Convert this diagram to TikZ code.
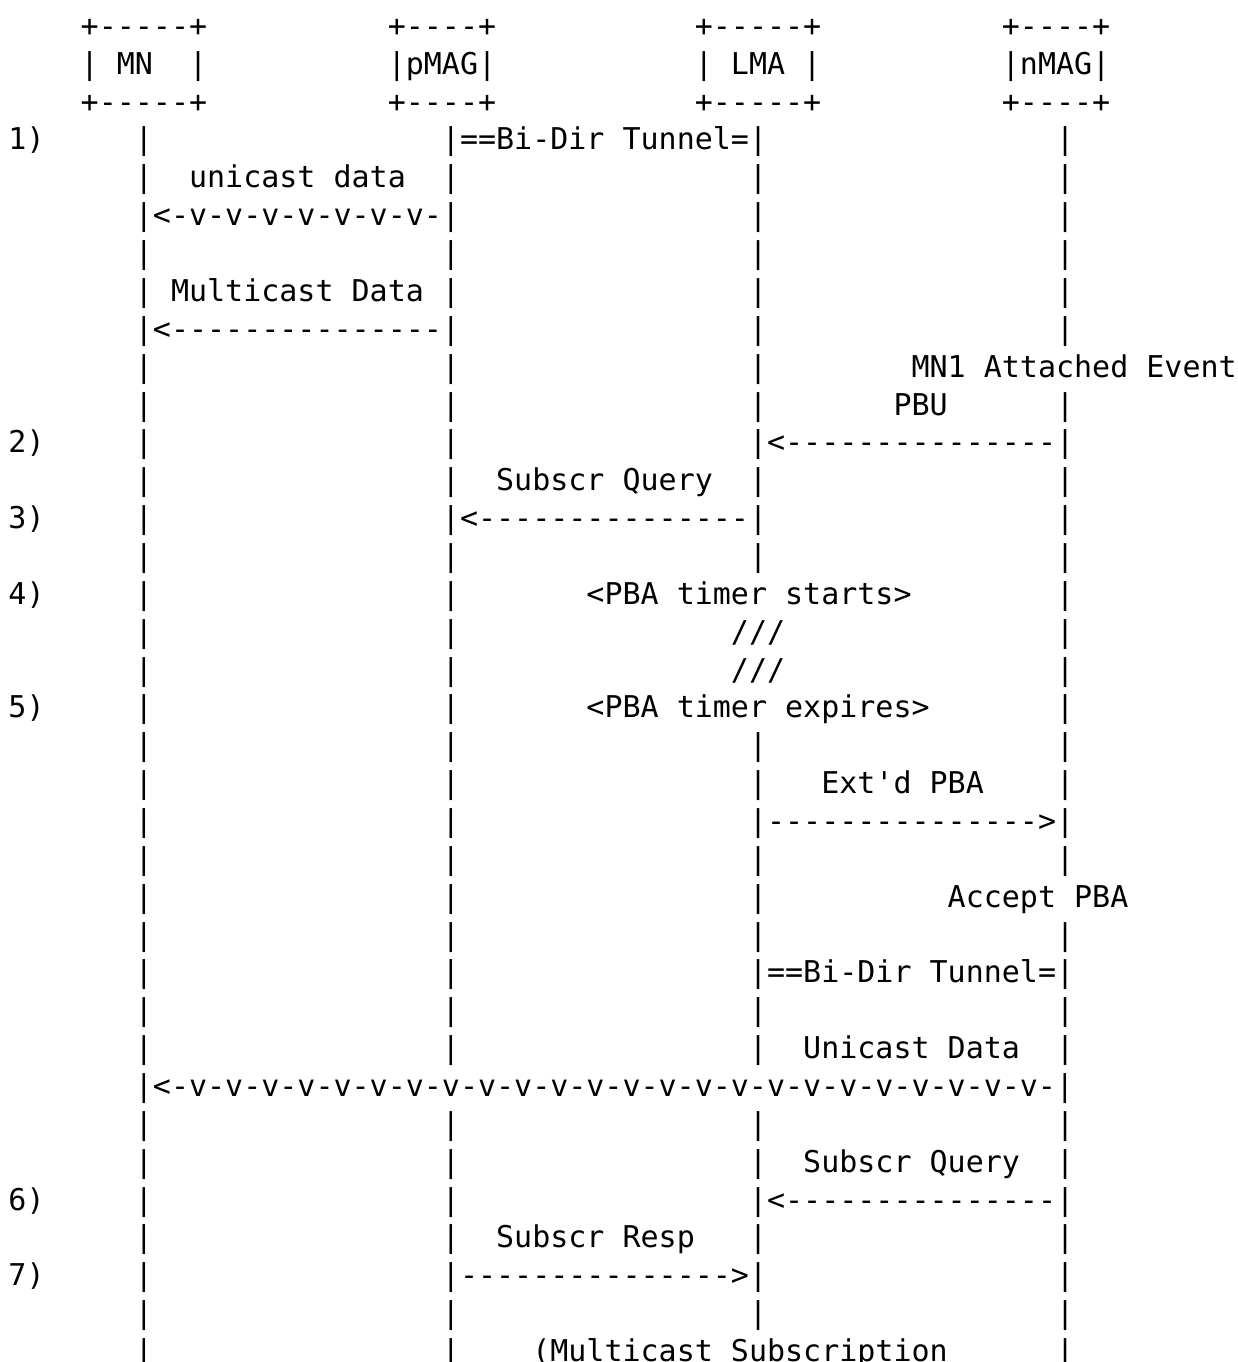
\documentclass[tikz,border=0pt]{standalone}
\usepackage{fontspec}
\setmonofont{DejaVu Sans Mono}
\newcommand\Atxt[3]{\node[ascii] (n-#1-#2) at ({4.25pt+#2*9.031pt},{-18.2pt-#1*18.93pt}) {#3};}
\newcommand\Abars[2]{\foreach \cc in {#2}{\node[ascii] (b-#1-\cc) at ({4.25pt+\cc*9.031pt},{-18.2pt-#1*18.93pt}) {|};}}
\begin{document}
\begin{tikzpicture}[ascii/.style={anchor=base west,inner sep=0pt,outer sep=0pt,font=\ttfamily\fontsize{15pt}{15pt}\selectfont,text=black}]
\fill[white] (0,0) rectangle (619pt,-681pt);
\useasboundingbox (0,0) rectangle (619pt,-681pt);
% header boxes
\Atxt{0}{4}{+-----+} \Atxt{0}{21}{+----+} \Atxt{0}{38}{+-----+} \Atxt{0}{55}{+----+}
\Atxt{1}{4}{|} \Atxt{1}{6}{MN} \Atxt{1}{10}{|}
\Atxt{1}{21}{|pMAG|}
\Atxt{1}{38}{|} \Atxt{1}{40}{LMA} \Atxt{1}{44}{|}
\Atxt{1}{55}{|nMAG|}
\Atxt{2}{4}{+-----+} \Atxt{2}{21}{+----+} \Atxt{2}{38}{+-----+} \Atxt{2}{55}{+----+}
% 1)
\Atxt{3}{0}{1)} \Abars{3}{7,58} \Atxt{3}{24}{|==Bi-Dir Tunnel=|}
\Abars{4}{7,24,41,58} \Atxt{4}{10}{unicast data}
\Atxt{5}{7}{|<-v-v-v-v-v-v-v-|} \Abars{5}{41,58}
\Abars{6}{7,24,41,58}
\Abars{7}{7,24,41,58} \Atxt{7}{9}{Multicast Data}
\Atxt{8}{7}{|<---------------|} \Abars{8}{41,58}
\Abars{9}{7,24,41} \Atxt{9}{50}{MN1 Attached Event}
\Abars{10}{7,24,41,58} \Atxt{10}{49}{PBU}
% 2)
\Atxt{11}{0}{2)} \Abars{11}{7,24} \Atxt{11}{41}{|<---------------|}
\Abars{12}{7,24,41,58} \Atxt{12}{27}{Subscr Query}
% 3)
\Atxt{13}{0}{3)} \Abars{13}{7,58} \Atxt{13}{24}{|<---------------|}
\Abars{14}{7,24,41,58}
% 4)
\Atxt{15}{0}{4)} \Abars{15}{7,24,58} \Atxt{15}{32}{<PBA timer starts>}
\Abars{16}{7,24,58} \Atxt{16}{40}{///}
\Abars{17}{7,24,58} \Atxt{17}{40}{///}
% 5)
\Atxt{18}{0}{5)} \Abars{18}{7,24,58} \Atxt{18}{32}{<PBA timer expires>}
\Abars{19}{7,24,41,58}
\Abars{20}{7,24,41,58} \Atxt{20}{45}{Ext'd PBA}
\Abars{21}{7,24} \Atxt{21}{41}{|--------------->|}
\Abars{22}{7,24,41,58}
\Abars{23}{7,24,41} \Atxt{23}{52}{Accept PBA}
\Abars{24}{7,24,41,58}
\Abars{25}{7,24} \Atxt{25}{41}{|==Bi-Dir Tunnel=|}
\Abars{26}{7,24,41,58}
\Abars{27}{7,24,41,58} \Atxt{27}{44}{Unicast Data}
\Atxt{28}{7}{|<-v-v-v-v-v-v-v-v-v-v-v-v-v-v-v-v-v-v-v-v-v-v-v-v-|}
\Abars{29}{7,24,41,58}
\Abars{30}{7,24,41,58} \Atxt{30}{44}{Subscr Query}
% 6)
\Atxt{31}{0}{6)} \Abars{31}{7,24} \Atxt{31}{41}{|<---------------|}
\Abars{32}{7,24,41,58} \Atxt{32}{27}{Subscr Resp}
% 7)
\Atxt{33}{0}{7)} \Abars{33}{7,58} \Atxt{33}{24}{|--------------->|}
\Abars{34}{7,24,41,58}
\Abars{35}{7,24,58} \Atxt{35}{29}{(Multicast Subscription}
\end{tikzpicture}
\end{document}
